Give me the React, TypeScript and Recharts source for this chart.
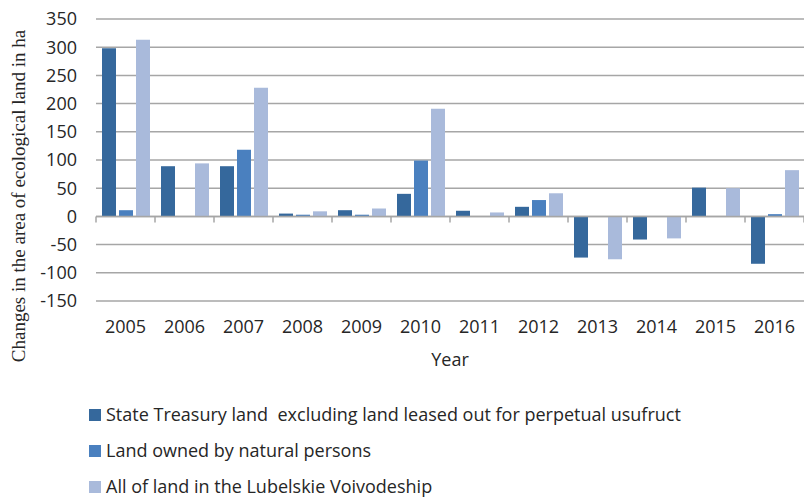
import React from 'react';
import { BarChart, Bar, XAxis, YAxis, CartesianGrid, ReferenceLine } from 'recharts';

const years = ['2005', '2006', '2007', '2008', '2009', '2010', '2011', '2012', '2013', '2014', '2015', '2016'];
const stateTreasury = [298, 89, 89, 5, 11, 40, 10, 17, -73, -41, 51, -84];
const naturalPersons = [11, 0, 118, 3, 3, 99, 0, 29, 0, 0, 0, 4];
const allLand = [313, 94, 228, 9, 14, 191, 7, 41, -76, -39, 50, 82];
const yTicks = [-150, -100, -50, 0, 50, 100, 150, 200, 250, 300, 350];

const series = [
  { key: 'treasury', name: 'State Treasury land  excluding land leased out for perpetual usufruct', color: '#35689c' },
  { key: 'persons', name: 'Land owned by natural persons', color: '#4a80bf' },
  { key: 'all', name: 'All of land in the Lubelskie Voivodeship', color: '#a9badb' },
];

const data = years.map((year, i) => ({
  year,
  treasury: stateTreasury[i],
  persons: naturalPersons[i],
  all: allLand[i],
}));

const GRID = '#a6a6a6';
const TEXT = '#262626';
const SANS = '"Open Sans", "Noto Sans", sans-serif';

// zero line with the category tick marks hanging below it
function ZeroAxis(props: any) {
  const { x1, x2, y1 } = props;
  const step = (x2 - x1) / years.length;
  const marks = [];
  for (let i = 0; i <= years.length; i++) {
    const x = x1 + i * step;
    marks.push(<line key={i} x1={x} x2={x} y1={y1} y2={y1 + 6} stroke={GRID} strokeWidth={1.5} />);
  }
  return (
    <g>
      <line x1={x1} x2={x2} y1={y1} y2={y1} stroke={GRID} strokeWidth={1.5} />
      {marks}
    </g>
  );
}

function YTitle() {
  return (
    <text
      x={18}
      y={196}
      transform="rotate(-90 18 196)"
      textAnchor="middle"
      dominantBaseline="central"
      fontFamily='"Liberation Serif", "Times New Roman", serif'
      fontSize={19}
      fill={TEXT}
    >
      Changes in the area of ecological land in ha
    </text>
  );
}

export default function App() {
  return (
    <div style={{ position: 'relative', width: 804, height: 498, background: '#fff', overflow: 'hidden' }}>
      <style>{'body{margin:0}'}</style>
      <BarChart
        width={804}
        height={498}
        data={data}
        margin={{ top: 19, right: 0, left: 0, bottom: 127 }}
        barSize={14}
        barGap={3}
      >
        <CartesianGrid vertical={false} stroke={GRID} strokeWidth={1.5} />
        <XAxis
          dataKey="year"
          axisLine={false}
          tickLine={false}
          tickMargin={13}
          height={70}
          interval={0}
          tick={{ fill: TEXT, fontSize: 18, fontFamily: SANS }}
          label={{ value: 'Year', position: 'insideBottom', offset: 5, fill: TEXT, fontSize: 18, fontFamily: SANS }}
        />
        <YAxis
          width={96}
          domain={[-150, 350]}
          ticks={yTicks}
          interval={0}
          axisLine={false}
          tickLine={false}
          tickMargin={13}
          tick={{ fill: TEXT, fontSize: 18, fontFamily: SANS }}
          label={<YTitle />}
        />
        {series.map((s) => (
          <Bar key={s.key} dataKey={s.key} name={s.name} fill={s.color} isAnimationActive={false} />
        ))}
        <ReferenceLine y={0} shape={<ZeroAxis />} />
      </BarChart>
      <div style={{ position: 'absolute', left: 89, top: 397, fontFamily: SANS, fontSize: 18, color: TEXT, lineHeight: 1.2 }}>
        {series.map((s) => (
          <div key={s.key} style={{ display: 'flex', alignItems: 'center', height: 36 }}>
            <span style={{ width: 12, height: 12, background: s.color, marginRight: 5, flex: 'none' }} />
            <span style={{ whiteSpace: 'pre' }}>{s.name}</span>
          </div>
        ))}
      </div>
    </div>
  );
}
